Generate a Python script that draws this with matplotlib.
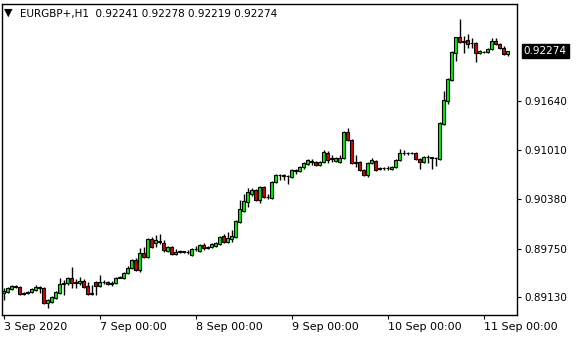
import matplotlib
matplotlib.use("Agg")
import matplotlib.pyplot as plt
import matplotlib.transforms as mtransforms
import numpy as np

# EURGBP+ H1 candles
opens = [0.89181, 0.89194, 0.89232, 0.89258, 0.89258, 0.89168, 0.89181, 0.89194, 0.89220, 0.89258,
         0.89245, 0.89053, 0.89066, 0.89117, 0.89181, 0.89296, 0.89309, 0.89373, 0.89309, 0.89309,
         0.89335, 0.89271, 0.89168, 0.89322, 0.89271, 0.89322, 0.89322, 0.89296, 0.89309, 0.89373,
         0.89373, 0.89437, 0.89501, 0.89604, 0.89476, 0.89693, 0.89642, 0.89872, 0.89821, 0.89847,
         0.89821, 0.89719, 0.89770, 0.89680, 0.89706, 0.89719, 0.89706, 0.89668, 0.89744, 0.89719,
         0.89796, 0.89757, 0.89770, 0.89783, 0.89808, 0.89911, 0.89834, 0.89872, 0.89898, 0.90090,
         0.90231, 0.90346, 0.90448, 0.90500, 0.90372, 0.90538, 0.90410, 0.90397, 0.90602, 0.90692,
         0.90692, 0.90679, 0.90666, 0.90756, 0.90743, 0.90794, 0.90832, 0.90871, 0.90858, 0.90820,
         0.90858, 0.90973, 0.90896, 0.90871, 0.90858, 0.90909, 0.91242, 0.91140, 0.90845, 0.90858,
         0.90756, 0.90692, 0.90845, 0.90871, 0.90768, 0.90781, 0.90781, 0.90768, 0.90794, 0.90884,
         0.90973, 0.90973, 0.90973, 0.90973, 0.90896, 0.90858, 0.90922, 0.90922, 0.90909, 0.90896,
         0.91344, 0.91639, 0.91908, 0.92253, 0.92458, 0.92394, 0.92420, 0.92381, 0.92381, 0.92253,
         0.92266, 0.92266, 0.92304, 0.92407, 0.92368, 0.92317, 0.92241]
highs = [0.89245, 0.89258, 0.89284, 0.89284, 0.89271, 0.89194, 0.89207, 0.89245, 0.89284, 0.89271,
         0.89258, 0.89104, 0.89143, 0.89207, 0.89373, 0.89348, 0.89386, 0.89514, 0.89360, 0.89386,
         0.89360, 0.89322, 0.89284, 0.89335, 0.89412, 0.89348, 0.89335, 0.89335, 0.89386, 0.89399,
         0.89450, 0.89527, 0.89616, 0.89629, 0.89757, 0.89770, 0.89885, 0.89898, 0.89924, 0.89936,
         0.89860, 0.89783, 0.89783, 0.89744, 0.89732, 0.89725, 0.89732, 0.89757, 0.89783, 0.89808,
         0.89821, 0.89783, 0.89821, 0.89834, 0.89911, 0.89936, 0.89962, 0.89988, 0.90116, 0.90372,
         0.90448, 0.90525, 0.90525, 0.90512, 0.90551, 0.90551, 0.90448, 0.90615, 0.90704, 0.90704,
         0.90704, 0.90692, 0.90768, 0.90768, 0.90807, 0.90858, 0.90896, 0.90896, 0.90871, 0.90871,
         0.91012, 0.90999, 0.90948, 0.90922, 0.90948, 0.91255, 0.91293, 0.91152, 0.90948, 0.90871,
         0.90768, 0.90858, 0.90909, 0.90884, 0.90794, 0.90794, 0.90807, 0.90807, 0.90896, 0.91024,
         0.91012, 0.90986, 0.90986, 0.90986, 0.90909, 0.90935, 0.90948, 0.90928, 0.90922, 0.91370,
         0.91767, 0.91933, 0.92279, 0.92458, 0.92688, 0.92471, 0.92496, 0.92445, 0.92394, 0.92292,
         0.92279, 0.92317, 0.92445, 0.92445, 0.92381, 0.92343, 0.92278]
lows = [0.89092, 0.89181, 0.89220, 0.89245, 0.89156, 0.89156, 0.89168, 0.89181, 0.89207, 0.89181,
        0.89040, 0.88989, 0.89053, 0.89104, 0.89168, 0.89156, 0.89284, 0.89245, 0.89245, 0.89284,
        0.89245, 0.89156, 0.89156, 0.89156, 0.89258, 0.89296, 0.89284, 0.89271, 0.89296, 0.89373,
        0.89360, 0.89424, 0.89488, 0.89463, 0.89450, 0.89629, 0.89629, 0.89757, 0.89770, 0.89808,
        0.89706, 0.89706, 0.89668, 0.89668, 0.89693, 0.89693, 0.89680, 0.89655, 0.89719, 0.89706,
        0.89732, 0.89744, 0.89757, 0.89770, 0.89796, 0.89821, 0.89821, 0.89834, 0.89885, 0.90077,
        0.90218, 0.90282, 0.90423, 0.90359, 0.90333, 0.90397, 0.90384, 0.90384, 0.90589, 0.90628,
        0.90628, 0.90576, 0.90653, 0.90704, 0.90730, 0.90768, 0.90820, 0.90820, 0.90807, 0.90807,
        0.90845, 0.90845, 0.90858, 0.90858, 0.90845, 0.90896, 0.91127, 0.90832, 0.90794, 0.90743,
        0.90679, 0.90666, 0.90832, 0.90743, 0.90756, 0.90756, 0.90756, 0.90756, 0.90781, 0.90871,
        0.90948, 0.90948, 0.90960, 0.90884, 0.90768, 0.90845, 0.90845, 0.90768, 0.90807, 0.90884,
        0.91332, 0.91600, 0.91895, 0.92151, 0.92381, 0.92253, 0.92317, 0.92317, 0.92138, 0.92240,
        0.92253, 0.92253, 0.92292, 0.92356, 0.92304, 0.92227, 0.92219]
closes = [0.89207, 0.89245, 0.89271, 0.89271, 0.89168, 0.89181, 0.89194, 0.89232, 0.89258, 0.89245,
          0.89053, 0.89092, 0.89130, 0.89194, 0.89296, 0.89309, 0.89373, 0.89309, 0.89322, 0.89335,
          0.89258, 0.89168, 0.89181, 0.89271, 0.89322, 0.89322, 0.89296, 0.89309, 0.89373, 0.89386,
          0.89437, 0.89501, 0.89604, 0.89476, 0.89693, 0.89642, 0.89872, 0.89770, 0.89860, 0.89834,
          0.89732, 0.89770, 0.89680, 0.89706, 0.89719, 0.89706, 0.89706, 0.89744, 0.89744, 0.89796,
          0.89757, 0.89770, 0.89808, 0.89821, 0.89898, 0.89834, 0.89885, 0.89911, 0.90103, 0.90256,
          0.90359, 0.90474, 0.90500, 0.90372, 0.90538, 0.90410, 0.90415, 0.90602, 0.90692, 0.90688,
          0.90679, 0.90683, 0.90756, 0.90743, 0.90794, 0.90845, 0.90884, 0.90858, 0.90820, 0.90858,
          0.90986, 0.90884, 0.90909, 0.90909, 0.90909, 0.91242, 0.91140, 0.90845, 0.90858, 0.90756,
          0.90692, 0.90845, 0.90884, 0.90756, 0.90781, 0.90785, 0.90777, 0.90794, 0.90884, 0.90973,
          0.90977, 0.90970, 0.90975, 0.90896, 0.90858, 0.90922, 0.90918, 0.90909, 0.90905, 0.91357,
          0.91652, 0.91920, 0.92266, 0.92458, 0.92394, 0.92407, 0.92368, 0.92377, 0.92253, 0.92279,
          0.92270, 0.92304, 0.92407, 0.92368, 0.92317, 0.92240, 0.92274]

tick_bars = [0, 24, 48, 72, 96, 120]
tick_labels = ["3 Sep 2020", "7 Sep 00:00", "8 Sep 00:00", "9 Sep 00:00", "10 Sep 00:00", "11 Sep 00:00"]
price_ticks = [0.89130, 0.89750, 0.90380, 0.91010, 0.91640]
title = "EURGBP+,H1  0.92241 0.92278 0.92219 0.92274"

o = np.array(opens)
h = np.array(highs)
l = np.array(lows)
c = np.array(closes)
x = np.arange(len(o))

fig = plt.figure(figsize=(5.8, 3.4), dpi=100)
ax = fig.add_axes([2 / 580, 25 / 340, 515 / 580, 311 / 340])

up = c >= o
cols = np.where(up, "#00f000", "#dd0000")
ax.vlines(x, l, h, color="black", lw=1.0, zorder=1)
ax.bar(x, np.abs(c - o), bottom=np.minimum(o, c), width=0.6,
       color=cols, edgecolor="black", lw=0.8, zorder=2)

ax.set_xlim(-0.375, 128.375)
ax.set_ylim(0.88900, 0.92880)

ax.yaxis.tick_right()
ax.set_yticks(price_ticks)
ax.set_yticklabels([f"{p:.5f}" for p in price_ticks], fontsize=7.5)
ax.set_xticks(tick_bars)
ax.set_xticklabels(tick_labels, fontsize=8, ha="left")
ax.tick_params(axis="both", length=3, width=0.8, color="black", pad=2)
for sp in ax.spines.values():
    sp.set_linewidth(1.0)

# current price tag
trans = mtransforms.blended_transform_factory(ax.transAxes, ax.transData)
ax.text(1.013, closes[-1], f"{closes[-1]:.5f}", transform=trans, fontsize=7.5,
        color="white", va="center", ha="left",
        bbox=dict(boxstyle="square,pad=0.2", fc="black", ec="black"))

ax.text(0.004, 0.988, "\u25bc", transform=ax.transAxes, fontsize=8, va="top", ha="left")
ax.text(0.035, 0.985, title, transform=ax.transAxes, fontsize=7.5, va="top", ha="left")

fig.savefig("out.png", dpi=100)
